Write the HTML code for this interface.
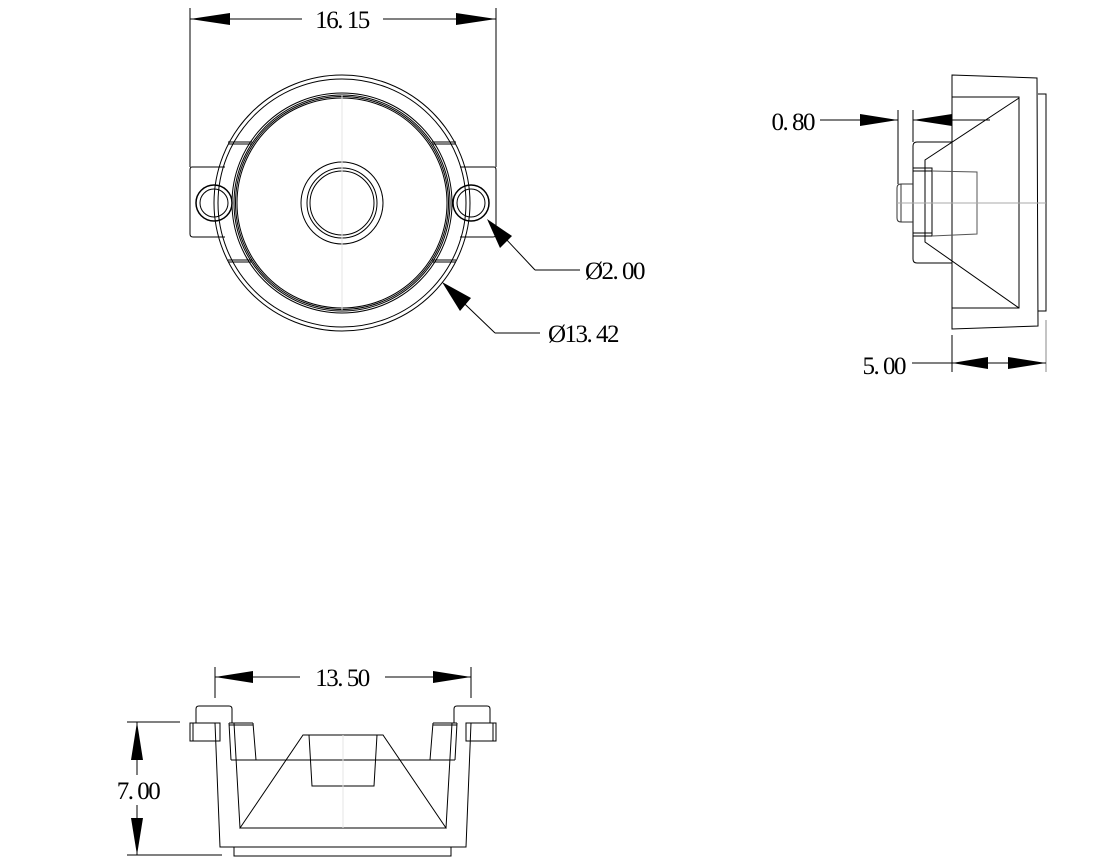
<!DOCTYPE html>
<html><head><meta charset="utf-8"><style>
html,body{margin:0;padding:0;background:#fff;}
svg{display:block;}
text{font-family:"Liberation Serif",serif;font-size:25px;letter-spacing:-1.5px;fill:#000;}
</style></head><body>
<svg width="1105" height="862" viewBox="0 0 1105 862" xmlns="http://www.w3.org/2000/svg">
<g fill="none" stroke="#000" stroke-width="1">
<!-- TOP VIEW -->
<line x1="190" y1="8" x2="190" y2="167"/>
<line x1="496" y1="8" x2="496" y2="167"/>
<line x1="190" y1="19" x2="302" y2="19"/>
<line x1="383" y1="19" x2="496" y2="19"/>
<path d="M192,167 H225 M192,167 Q190,167 190,170 V234 Q190,237 193,237 H225"/>
<path d="M494,167 H460 M494,167 Q496,167 496,170 V234 Q496,237 493,237 H460"/>
<circle cx="342" cy="203" r="128"/>
<circle cx="342" cy="203" r="124"/>
<circle cx="342" cy="203" r="110"/>
<circle cx="342" cy="203" r="108"/>
<circle cx="342" cy="203" r="106.5"/>
<circle cx="342" cy="203" r="105"/>
<circle cx="342" cy="203" r="41"/>
<circle cx="342" cy="203" r="35"/>
<circle cx="342" cy="203" r="32"/>
<circle cx="214" cy="203" r="18" stroke-width="1.5"/>
<circle cx="214" cy="203" r="14"/>
<circle cx="471" cy="203" r="18" stroke-width="1.5"/>
<circle cx="471" cy="203" r="14"/>
<path d="M228,142 H252 M228,144 H252 M228,260 H252 M228,262 H252 M432,142 H456 M432,144 H456 M432,260 H456 M432,262 H456"/>
<line x1="342" y1="95" x2="342" y2="310" stroke="#e4e4e4"/>
<line x1="490" y1="222" x2="535" y2="270"/>
<line x1="535" y1="270" x2="580" y2="270"/>
<line x1="445" y1="285" x2="495" y2="333"/>
<line x1="495" y1="333" x2="540" y2="333"/>
<!-- SIDE VIEW -->
<path d="M952,75 L1037,78 L1038,326 L952,329 Z"/>
<path d="M952,97 H1019 V308 H952"/>
<path d="M1038,94 H1046 V311 H1038"/>
<path d="M1019,98 L925,160 V242 L1019,308"/>
<path d="M952,142 H917 Q913,142 913,146 V259 Q913,263 917,263 H952"/>
<path d="M913,168 H932 V236 H913 M913,171 H932 M913,233 H932"/>
<path d="M932,171 L977,172 V234 L932,236" stroke="#555"/>
<path d="M913,184 H901 Q897,184 897,188 V218 Q897,222 901,222 H913 M901,184 V222" stroke="#333"/>
<line x1="897" y1="203" x2="1046" y2="203" stroke="#aaa"/>
<line x1="898" y1="110" x2="898" y2="184"/>
<line x1="913" y1="110" x2="913" y2="142"/>
<line x1="820" y1="120" x2="898" y2="120"/>
<line x1="913" y1="120" x2="990" y2="120"/>
<line x1="952" y1="335" x2="952" y2="372"/>
<line x1="1046" y1="320" x2="1046" y2="372" stroke="#888"/>
<line x1="912" y1="363" x2="1046" y2="363"/>
<!-- BOTTOM VIEW -->
<line x1="215" y1="667" x2="215" y2="698"/>
<line x1="471" y1="667" x2="471" y2="698"/>
<line x1="215" y1="677" x2="300" y2="677"/>
<line x1="385" y1="677" x2="471" y2="677"/>
<line x1="127" y1="722" x2="180" y2="722"/>
<line x1="127" y1="855" x2="222" y2="855"/>
<line x1="137" y1="722" x2="137" y2="775"/>
<line x1="137" y1="805" x2="137" y2="855"/>
<path d="M190,723 H220 V741 H190 Z M193,723 V741"/>
<path d="M196,723 V709 Q196,706 199,706 H229 Q232,706 232,709 V723"/>
<path d="M215,723 L220,847 H466 L471,723"/>
<path d="M234,847 V856 H451 V847"/>
<path d="M229,723 L231,760 M253,723 L256,760 M229,723 H253 M229,725 H253"/>
<path d="M231,760 H455"/>
<path d="M240,828 L303,735 H383 L446,828 Z"/>
<path d="M309,735 L312,786 H374 L377,735"/>
<line x1="343" y1="735" x2="343" y2="828" stroke="#e4e4e4"/>
<path d="M496,723 H466 V741 H496 Z M493,723 V741"/>
<path d="M490,723 V709 Q490,706 487,706 H457 Q454,706 454,709 V723"/>
<path d="M457,723 L455,760 M433,723 L430,760 M433,723 H457 M433,725 H457"/>
<path d="M234,723 L240,828 M452,723 L446,828"/>
</g>
<g fill="#000" stroke="none">
<polygon points="190,19 230,13 230,25"/>
<polygon points="496,19 456,13 456,25"/>
<polygon points="487,219 512,236 500,248"/>
<polygon points="442,282 471,298 460,311"/>
<polygon points="898,120 860,114 860,126"/>
<polygon points="913,120 952,114 952,126"/>
<polygon points="952,363 988,357 988,369"/>
<polygon points="1046,363 1008,357 1008,369"/>
<polygon points="215,677 253,671 253,683"/>
<polygon points="471,677 433,671 433,683"/>
<polygon points="137,722 131,760 143,760"/>
<polygon points="137,855 131,818 143,818"/>
</g>
<text x="342" y="28" text-anchor="middle">16. 15</text>
<text x="585" y="279">Ø2. 00</text>
<text x="548" y="342">Ø13. 42</text>
<text x="814" y="130" text-anchor="end">0. 80</text>
<text x="905" y="374" text-anchor="end">5. 00</text>
<text x="342" y="686" text-anchor="middle">13. 50</text>
<text x="138" y="799" text-anchor="middle">7. 00</text>
</svg>
</body></html>
